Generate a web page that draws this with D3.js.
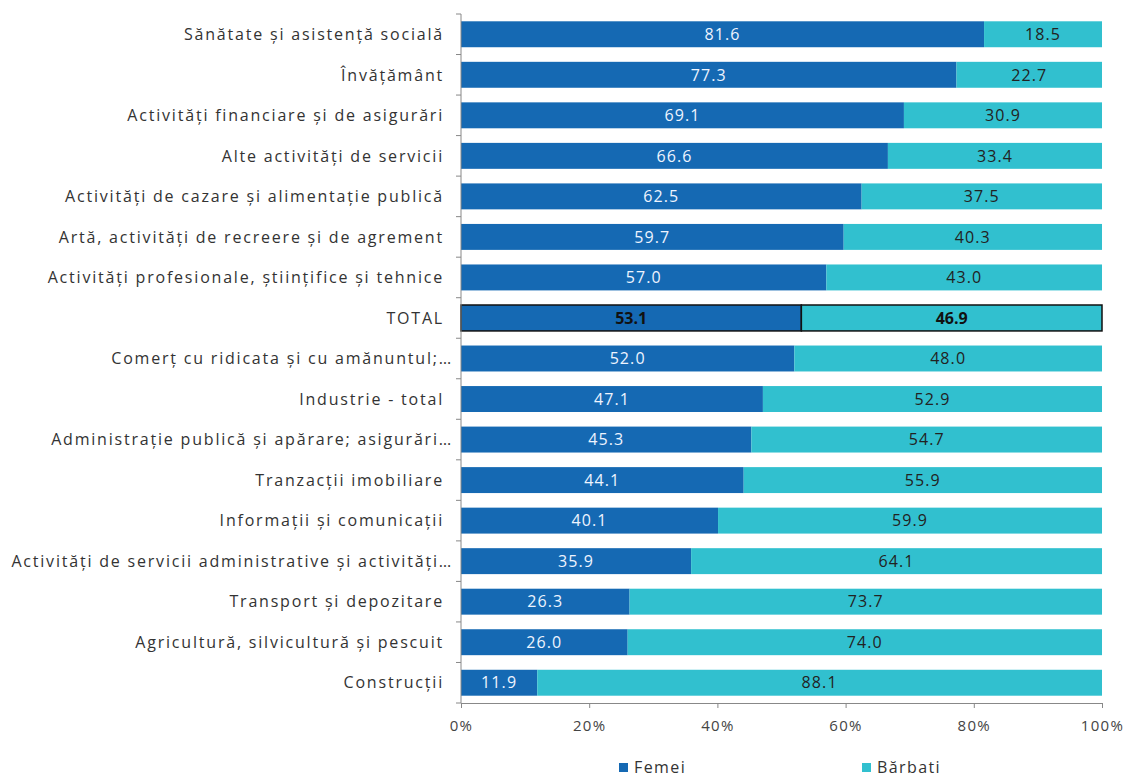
<!DOCTYPE html>
<html>
<head>
<meta charset="utf-8">
<script src="https://d3js.org/d3.v7.min.js"></script>
<style type="text/css">
body { margin: 0; background: #fff; }
svg text { font-family: "Open Sans", Lato, sans-serif; }
.cat text { font-size: 16px; fill: #333; letter-spacing: 1.8px; }
.xaxis text { letter-spacing: 1.3px; fill: #444; }
.val { font-size: 16px; text-anchor: middle; letter-spacing: 1.1px; }
.legend text { font-size: 16px; fill: #333; letter-spacing: 1.4px; }
</style>
</head>
<body>
<svg width="1129" height="778"></svg>
<script>

var categories = [
    "Sănătate și asistență socială",
    "Învățământ",
    "Activități financiare și de asigurări",
    "Alte activități de servicii",
    "Activități de cazare și alimentație publică",
    "Artă, activități de recreere și de agrement",
    "Activități profesionale, științifice și tehnice",
    "TOTAL",
    "Comerț cu ridicata și cu amănuntul;…",
    "Industrie - total",
    "Administrație publică și apărare; asigurări…",
    "Tranzacții imobiliare",
    "Informații și comunicații",
    "Activități de servicii administrative și activități…",
    "Transport și depozitare",
    "Agricultură, silvicultură și pescuit",
    "Construcții"
];

var femei   = [81.6, 77.3, 69.1, 66.6, 62.5, 59.7, 57.0, 53.1, 52.0, 47.1, 45.3, 44.1, 40.1, 35.9, 26.3, 26.0, 11.9];
var barbati = [18.5, 22.7, 30.9, 33.4, 37.5, 40.3, 43.0, 46.9, 48.0, 52.9, 54.7, 55.9, 59.9, 64.1, 73.7, 74.0, 88.1];

var seriesNames = ["Femei", "Bărbati"];
var xTicks = [0, 20, 40, 60, 80, 100];

var svg = d3.select("svg"),
    margin = {top: 14, right: 27, bottom: 75, left: 461},
    width = +svg.attr("width") - margin.left - margin.right,
    height = +svg.attr("height") - margin.top - margin.bottom,
    g = svg.append("g").attr("transform", "translate(" + margin.left + "," + margin.top + ")");

var colors = ["#1569b3", "#31c0cf"];

var x = d3.scaleLinear().domain([0, 100]).range([0, width]);
var y = d3.scaleBand().domain(categories).range([0, height]).paddingInner(0.36).paddingOuter(0.18);

var rows = categories.map(function(c, i) {
    return {cat: c, femei: femei[i], barbati: barbati[i]};
});

var stack = d3.stack().keys(["femei", "barbati"]);
var layers = stack(rows);

layers.forEach(function(layer, li) {
    var lg = g.append("g");
    lg.selectAll("rect")
        .data(layer)
        .enter().append("rect")
        .attr("x", function(d) { return x(d[0]); })
        .attr("y", function(d) { return y(d.data.cat); })
        .attr("width", function(d) { return x(Math.min(d[1], 100)) - x(d[0]); })
        .attr("height", y.bandwidth())
        .attr("fill", colors[li])
        .attr("stroke", function(d) { return d.data.cat == "TOTAL" ? "#111" : "none"; })
        .attr("stroke-width", 1.5);

    lg.selectAll("text")
        .data(layer)
        .enter().append("text")
        .attr("class", "val")
        .attr("x", function(d) { return x((d[0] + Math.min(d[1], 100)) / 2); })
        .attr("y", function(d) { return y(d.data.cat) + y.bandwidth() / 2; })
        .attr("dy", "0.36em")
        .attr("fill", function(d) {
            if (d.data.cat == "TOTAL") return "#111";
            return li == 0 ? "#eef4ff" : "#222";
        })
        .style("font-weight", function(d) { return d.data.cat == "TOTAL" ? "bold" : "normal"; })
        .style("letter-spacing", function(d) { return d.data.cat == "TOTAL" ? "0px" : null; })
        .text(function(d) { return (d[1] - d[0]).toFixed(1); });
});

// left axis: ticks between categories
var yAxisG = g.append("g").attr("class", "cat");
yAxisG.append("line")
    .attr("x1", 0).attr("x2", 0)
    .attr("y1", 0).attr("y2", height)
    .attr("stroke", "#888");
yAxisG.selectAll("line.tk")
    .data(categories.concat(["end"]))
    .enter().append("line")
    .attr("class", "tk")
    .attr("x1", -5).attr("x2", 0)
    .attr("y1", function(d, i) { return i * y.step(); })
    .attr("y2", function(d, i) { return i * y.step(); })
    .attr("stroke", "#888");
yAxisG.selectAll("text")
    .data(categories)
    .enter().append("text")
    .attr("x", function(d) { return d.slice(-1) == "…" ? -8 : -17; })
    .attr("y", function(d) { return y(d) + y.bandwidth() / 2; })
    .attr("dy", "0.36em")
    .attr("text-anchor", "end")
    .text(function(d) { return d; });

// bottom axis
var xAxis = d3.axisBottom(x)
    .tickValues(xTicks)
    .tickSize(5)
    .tickPadding(12)
    .tickFormat(function(d) { return d + "%"; });

var xg = g.append("g")
    .attr("class", "xaxis")
    .attr("transform", "translate(0," + height + ")")
    .call(xAxis);
xg.select(".domain").attr("stroke", "#888");
xg.selectAll(".tick line").attr("stroke", "#888");
xg.selectAll(".tick text").attr("font-family", null).style("font-size", "15px");

// legend
var legend = svg.append("g").attr("class", "legend");
var legX = [619, 862];
seriesNames.forEach(function(name, i) {
    legend.append("rect")
        .attr("x", legX[i]).attr("y", 763)
        .attr("width", 9).attr("height", 9)
        .attr("fill", colors[i]);
    legend.append("text")
        .attr("x", legX[i] + 15).attr("y", 773)
        .text(name);
});

</script>
</body>
</html>
